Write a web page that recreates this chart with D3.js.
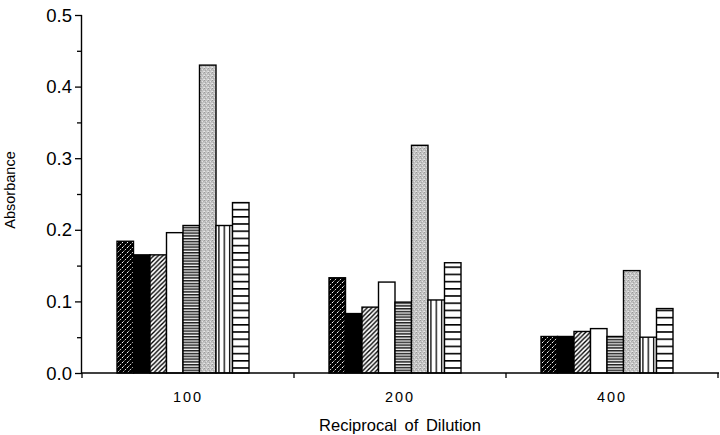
<!DOCTYPE html>
<html>
<head>
<meta charset="utf-8">
<script src="https://cdn.jsdelivr.net/npm/d3@7"></script>
<style>
  body { margin: 0; background: #fff; }
  svg { display: block; font-family: "Liberation Sans", Arial, sans-serif; }
</style>
</head>
<body>
<svg id="chart" width="720" height="435"></svg>
<script>
// dilution groups on the x axis
const dilutions = ["100", "200", "400"];
// bar series, in drawing order inside each group
const seriesNames = ["darkHatch", "solid", "hatch", "open", "denseLines", "stipple", "vertLines", "sparseLines"];
// absorbance per series, one value per dilution
const darkHatch   = [0.184, 0.133, 0.051];
const solid       = [0.165, 0.083, 0.051];
const hatch       = [0.165, 0.092, 0.058];
const open        = [0.196, 0.127, 0.062];
const denseLines  = [0.206, 0.099, 0.051];
const stipple     = [0.430, 0.318, 0.143];
const vertLines   = [0.206, 0.102, 0.050];
const sparseLines = [0.238, 0.154, 0.090];
const yTicks = [0.0, 0.1, 0.2, 0.3, 0.4, 0.5];

const seriesValues = [darkHatch, solid, hatch, open, denseLines, stipple, vertLines, sparseLines];

const svg = d3.select("#chart");
const plotLeft = 82, plotRight = 718, plotTop = 15, plotBottom = 373;

const x = d3.scaleBand().domain(dilutions).range([plotLeft, plotRight]).padding(0);
const x1 = d3.scaleBand().domain(seriesNames).range([35, 167]).padding(0);
const y = d3.scaleLinear().domain([0, 0.5]).range([plotBottom, plotTop]);

// fill patterns
const defs = svg.append("defs");

let p = defs.append("pattern").attr("id", "darkHatch").attr("patternUnits", "userSpaceOnUse")
  .attr("width", 5).attr("height", 5);
p.append("rect").attr("width", 5).attr("height", 5).attr("fill", "#000");
p.append("path").attr("d", "M-1,6 L6,-1").attr("stroke", "#fff").attr("stroke-width", 1)
  .attr("stroke-dasharray", "2.6,1.4");

defs.append("pattern").attr("id", "solid").attr("patternUnits", "userSpaceOnUse")
  .attr("width", 4).attr("height", 4)
  .append("rect").attr("width", 4).attr("height", 4).attr("fill", "#000");

p = defs.append("pattern").attr("id", "hatch").attr("patternUnits", "userSpaceOnUse")
  .attr("width", 4.5).attr("height", 4.5);
p.append("rect").attr("width", 4.5).attr("height", 4.5).attr("fill", "#fff");
p.append("path").attr("d", "M-1,5.5 L5.5,-1 M-1,1 L1,-1 M3.5,5.5 L5.5,3.5").attr("stroke", "#000").attr("stroke-width", 1.4);

defs.append("pattern").attr("id", "open").attr("patternUnits", "userSpaceOnUse")
  .attr("width", 4).attr("height", 4)
  .append("rect").attr("width", 4).attr("height", 4).attr("fill", "#fff");

p = defs.append("pattern").attr("id", "denseLines").attr("patternUnits", "userSpaceOnUse")
  .attr("width", 4).attr("height", 2.8);
p.append("rect").attr("width", 4).attr("height", 2.8).attr("fill", "#f4f4f4");
p.append("rect").attr("y", 0).attr("width", 4).attr("height", 1.5).attr("fill", "#222");

p = defs.append("pattern").attr("id", "stipple").attr("patternUnits", "userSpaceOnUse")
  .attr("width", 4).attr("height", 4);
p.append("rect").attr("width", 4).attr("height", 4).attr("fill", "#c2c2c2");
[[0, 0, "#9a9a9a"], [2, 1, "#e2e2e2"], [1, 2, "#a8a8a8"], [3, 3, "#dadada"], [3, 1, "#b0b0b0"], [0, 3, "#e8e8e8"]]
  .forEach(([dx, dy, c]) => p.append("rect").attr("x", dx).attr("y", dy).attr("width", 1).attr("height", 1).attr("fill", c));

p = defs.append("pattern").attr("id", "vertLines").attr("patternUnits", "userSpaceOnUse")
  .attr("width", 5.3).attr("height", 4).attr("x", 1);
p.append("rect").attr("width", 5.3).attr("height", 4).attr("fill", "#fff");
p.append("rect").attr("x", 0).attr("width", 1.3).attr("height", 4).attr("fill", "#000");

p = defs.append("pattern").attr("id", "sparseLines").attr("patternUnits", "userSpaceOnUse")
  .attr("width", 4).attr("height", 7.2);
p.append("rect").attr("width", 4).attr("height", 7.2).attr("fill", "#fff");
p.append("rect").attr("y", 0).attr("width", 4).attr("height", 1.6).attr("fill", "#000");

// bars
const barData = [];
seriesNames.forEach((s, i) => {
  dilutions.forEach((d, j) => barData.push({ series: s, dilution: d, value: seriesValues[i][j] }));
});

svg.append("g").selectAll("rect")
  .data(barData).enter()
  .append("rect")
  .attr("x", d => x(d.dilution) + x1(d.series))
  .attr("y", d => y(d.value))
  .attr("width", x1.bandwidth())
  .attr("height", d => y(0) - y(d.value))
  .attr("fill", d => `url(#${d.series})`)
  .attr("stroke", "#000")
  .attr("stroke-width", 1.4);

// y axis
const yAxis = svg.append("g").attr("transform", `translate(${plotLeft},0)`)
  .call(d3.axisLeft(y).tickValues(d3.range(0, 0.5001, 0.05)).tickSize(5).tickFormat(""));
yAxis.select(".domain").attr("stroke-width", 1.4).attr("d", `M-0.5,${plotBottom}V${plotTop}`);
yAxis.selectAll(".tick line").attr("stroke-width", 1.3)
  .attr("x2", (d) => Math.abs(Math.round(d * 10) - d * 10) < 1e-6 ? -7 : -5);

svg.append("g").selectAll("text")
  .data(yTicks).enter()
  .append("text")
  .attr("x", 72)
  .attr("y", d => y(d))
  .attr("dy", "0.36em")
  .attr("text-anchor", "end")
  .attr("font-size", 18.5)
  .text(d => d.toFixed(1));

// x axis
const xAxis = svg.append("g").attr("transform", `translate(0,${plotBottom})`);
xAxis.append("line").attr("x1", plotLeft - 1).attr("x2", plotRight + 1).attr("stroke", "#000").attr("stroke-width", 1.4);
xAxis.selectAll(".xt")
  .data(dilutions.map(d => x(d) + x.bandwidth()).concat([plotLeft]))
  .enter().append("line")
  .attr("x1", d => d).attr("x2", d => d)
  .attr("y1", 0).attr("y2", 5)
  .attr("stroke", "#000").attr("stroke-width", 1.3);

svg.append("g").selectAll("text")
  .data(dilutions).enter()
  .append("text")
  .attr("x", d => x(d) + x.bandwidth() / 2)
  .attr("y", 402)
  .attr("text-anchor", "middle")
  .attr("font-size", 14.5)
  .attr("letter-spacing", "2px")
  .text(d => d);

svg.append("text")
  .attr("x", 400)
  .attr("y", 431)
  .attr("text-anchor", "middle")
  .attr("font-size", 16.5)
  .attr("word-spacing", "3px")
  .text("Reciprocal of Dilution");

svg.append("text")
  .attr("transform", "translate(15,190) rotate(-90)")
  .attr("text-anchor", "middle")
  .attr("font-size", 14.5)
  .text("Absorbance");
</script>
</body>
</html>
